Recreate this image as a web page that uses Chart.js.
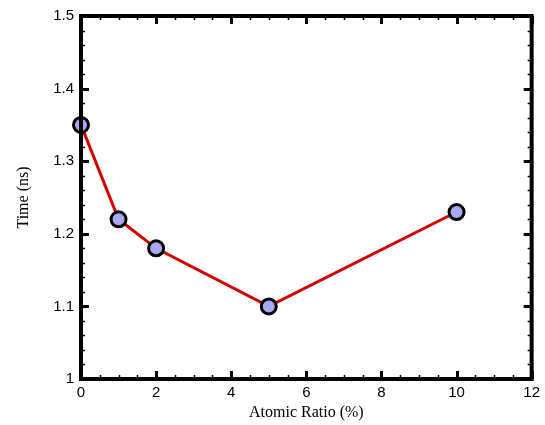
<!DOCTYPE html>
<html>
<head>
<meta charset="utf-8">
<script src="https://cdn.jsdelivr.net/npm/chart.js@4/dist/chart.umd.min.js"></script>
<style>
    html, body { margin: 0; padding: 0; background: #fff; }
    #wrap { width: 545px; height: 425px; }
</style>
</head>
<body>
<div id="wrap"><canvas id="chart" width="545" height="425"></canvas></div>
<script>
// Atomic ratio (%) vs. time (ns)
var ratios = [0, 1, 2, 5, 10];
var times = [1.35, 1.22, 1.18, 1.10, 1.23];

var xTicks = [0, 2, 4, 6, 8, 10, 12];
var yTicks = [1, 1.1, 1.2, 1.3, 1.4, 1.5];

// draws the frame and inward ticks on all four sides
var frameTicks = {
    id: 'frameTicks',
    afterDatasetsDraw: function (chart) {
        var ctx = chart.ctx;
        var a = chart.chartArea;
        var xs = chart.scales.x;
        var ys = chart.scales.y;
        var v, p;
        ctx.save();
        ctx.strokeStyle = '#000';

        for (v = 0; v <= 12.001; v += 0.5) {
            p = Math.round(xs.getPixelForValue(v)) + 0.5;
            var major = Math.abs(v / 2 - Math.round(v / 2)) < 1e-6;
            ctx.lineWidth = major ? 3 : 1.5;
            var len = major ? 8 : 4;
            ctx.beginPath();
            ctx.moveTo(p, a.bottom); ctx.lineTo(p, a.bottom - len);
            ctx.moveTo(p, a.top); ctx.lineTo(p, a.top + len);
            ctx.stroke();
        }
        for (var i = 0; i <= 25; i++) {
            v = 1 + i * 0.02;
            p = Math.round(ys.getPixelForValue(v)) + 0.5;
            var maj = i % 5 === 0;
            ctx.lineWidth = maj ? 3 : 1.5;
            var l = maj ? 8 : 4;
            ctx.beginPath();
            ctx.moveTo(a.left, p); ctx.lineTo(a.left + l, p);
            ctx.moveTo(a.right, p); ctx.lineTo(a.right - l, p);
            ctx.stroke();
        }

        ctx.lineWidth = 4;
        ctx.strokeRect(a.left, a.top, a.right - a.left, a.bottom - a.top);
        ctx.restore();
    }
};

new Chart(document.getElementById('chart'), {
    type: 'line',
    data: {
        datasets: [{
            data: ratios.map(function (r, i) { return { x: r, y: times[i] }; }),
            borderColor: '#d40000',
            borderWidth: 3,
            pointRadius: 7.5,
            pointBorderWidth: 3,
            pointBackgroundColor: '#a8a8f4',
            pointBorderColor: '#000',
            tension: 0,
            clip: false
        }]
    },
    options: {
        responsive: false,
        animation: false,
        layout: { padding: { top: 16, right: 11, left: 0, bottom: 0 } },
        plugins: { legend: { display: false }, tooltip: { enabled: false } },
        scales: {
            x: {
                type: 'linear',
                min: 0,
                max: 12,
                afterBuildTicks: function (s) { s.ticks = xTicks.map(function (v) { return { value: v }; }); },
                afterFit: function (s) { s.height = 46; },
                grid: { display: false, drawTicks: false },
                border: { display: false },
                ticks: {
                    color: '#000',
                    padding: 5,
                    maxRotation: 0,
                    font: { family: 'Liberation Sans', size: 15 }
                },
                title: {
                    display: true,
                    text: 'Atomic Ratio (%)',
                    color: '#000',
                    padding: { top: 0, bottom: 3 },
                    font: { family: 'Liberation Serif', size: 16 }
                }
            },
            y: {
                min: 1,
                max: 1.5,
                afterBuildTicks: function (s) { s.ticks = yTicks.map(function (v) { return { value: v }; }); },
                afterFit: function (s) { s.width = 81; },
                grid: { display: false, drawTicks: false },
                border: { display: false },
                ticks: {
                    color: '#000',
                    padding: 7,
                    font: { family: 'Liberation Sans', size: 15 },
                    callback: function (v) { return String(Math.round(v * 10) / 10); }
                },
                title: {
                    display: true,
                    text: 'Time (ns)',
                    color: '#000',
                    padding: { top: 14, bottom: 0 },
                    font: { family: 'Liberation Serif', size: 16 }
                }
            }
        }
    },
    plugins: [frameTicks]
});
</script>
</body>
</html>
